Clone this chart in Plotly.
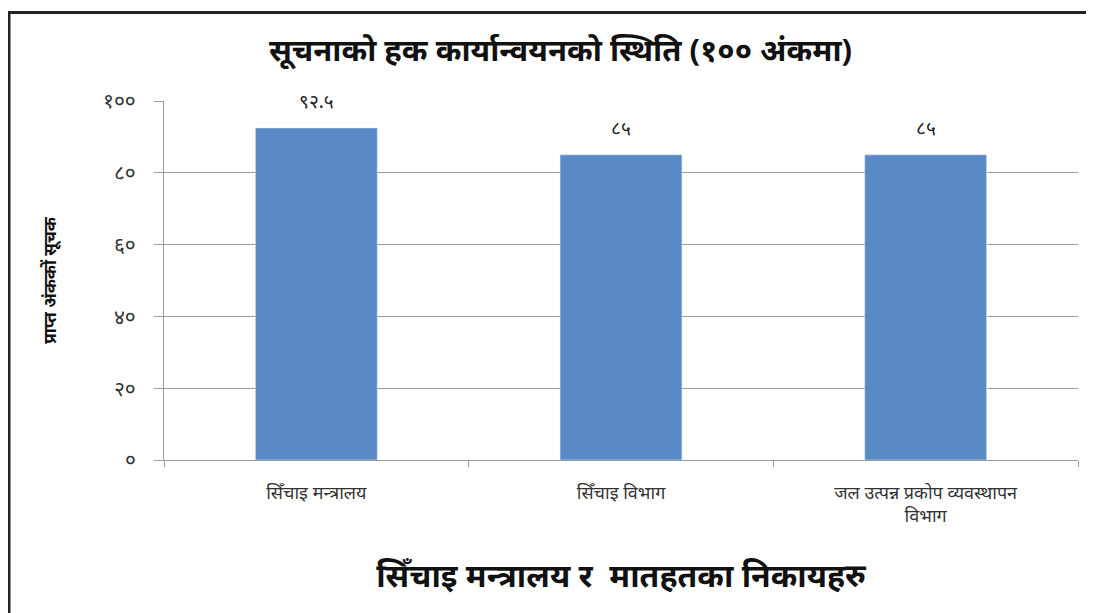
import plotly.graph_objects as go

categories = ["सिँचाइ मन्त्रालय", "सिँचाइ विभाग", "जल उत्पन्न प्रकोप व्यवस्थापन<br>विभाग"]
values = [92.5, 85, 85]
value_labels = ["९२.५", "८५", "८५"]
y_tickvals = [0, 20, 40, 60, 80, 100]
y_ticktext = ["०", "२०", "४०", "६०", "८०", "१००"]

title_text = "सूचनाको हक कार्यान्वयनको स्थिति (१०० अंकमा)"
x_title = "सिँचाइ मन्त्रालय र  मातहतका निकायहरु"
y_title = "प्राप्त अंककों सूचक"

FONT = "Noto Sans, DejaVu Sans, sans-serif"

fig = go.Figure()
fig.add_trace(go.Bar(
    x=categories, y=values,
    marker=dict(color="#5A8AC6"),
    width=0.4,
))
for c, v, t in zip(categories, values, value_labels):
    fig.add_annotation(x=c, y=v, text=t, showarrow=False, yanchor="bottom", yshift=12,
                       font=dict(size=19, color="#222", family=FONT))

# page body has an 8px default margin; margins compensate so plot area lands at 164..1078 x, 101..460 y
fig.update_layout(
    width=1094, height=613,
    margin=dict(l=156, r=24, t=93, b=161),
    paper_bgcolor="white", plot_bgcolor="white",
    showlegend=False,
    title=dict(text="<b>" + title_text + "</b>", x=0.505, xanchor="center", y=0.932, yanchor="middle",
               font=dict(size=31, color="#111", family=FONT)),
    font=dict(family=FONT),
)

fig.update_xaxes(
    type="category",
    showline=True, linecolor="#9a9a9a", linewidth=1,
    ticks="outside", ticklen=6, tickcolor="#9a9a9a", tickson="boundaries",
    ticklabelstandoff=16,
    tickfont=dict(size=18, color="#333", family=FONT),
    showgrid=False,
    title=dict(text="<b>" + x_title + "</b>", font=dict(size=32, color="#111", family=FONT), standoff=38),
)
fig.update_yaxes(
    range=[0, 100],
    tickvals=y_tickvals, ticktext=y_ticktext,
    showline=True, linecolor="#9a9a9a", linewidth=1,
    ticks="outside", ticklen=9, tickcolor="#9a9a9a",
    ticklabelstandoff=14,
    showgrid=True, gridcolor="#9a9a9a", gridwidth=1,
    zeroline=False,
    tickfont=dict(size=21, color="#333", family=FONT),
    title=dict(text="<b>" + y_title + "</b>", font=dict(size=17, color="#111", family=FONT), standoff=42),
)

fig.add_shape(type="rect", xref="paper", yref="paper",
              x0=(9 - 164) / 914, x1=(1120 - 164) / 914,
              y0=-(660 - 460) / 359, y1=1 + (101 - 12.5) / 359,
              line=dict(color="#222", width=3), fillcolor="rgba(0,0,0,0)", layer="above")

fig.write_html("out.html")
